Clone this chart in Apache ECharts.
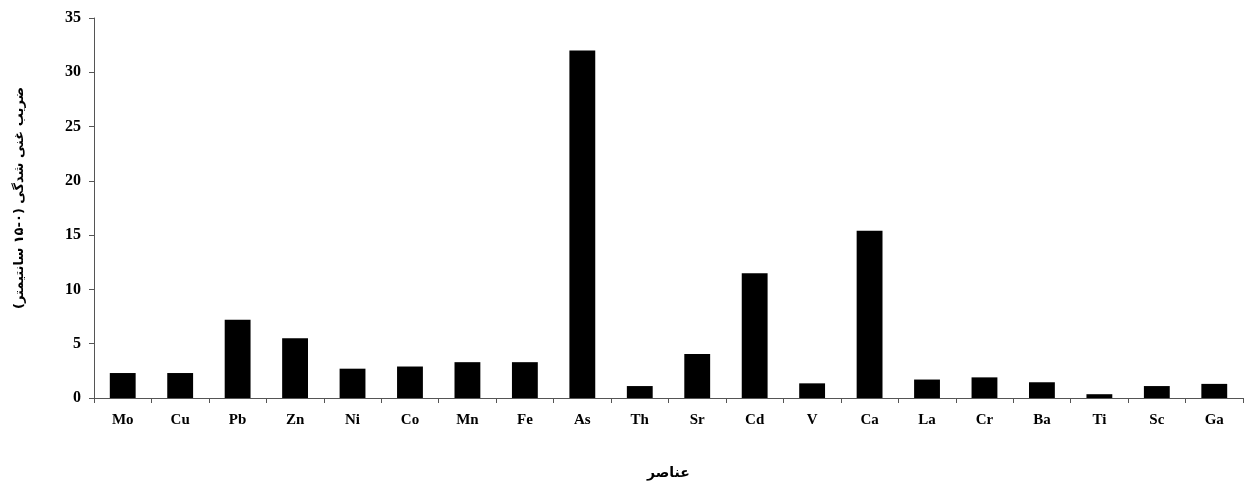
<!DOCTYPE html>
<html><head><meta charset="utf-8">
<script src="https://cdn.jsdelivr.net/npm/echarts@6/dist/echarts.min.js"></script>
<style>html,body{margin:0;padding:0;background:#fff}#c{width:1253px;height:484px}</style>
</head><body><div id="c"></div>
<script>
const categories = ['Mo','Cu','Pb','Zn','Ni','Co','Mn','Fe','As','Th','Sr','Cd','V','Ca','La','Cr','Ba','Ti','Sc','Ga'];
const values = [2.3, 2.3, 7.2, 5.5, 2.7, 2.9, 3.3, 3.3, 32.0, 1.1, 4.05, 11.5, 1.35, 15.4, 1.7, 1.9, 1.45, 0.35, 1.1, 1.3];
const yTicks = [0, 5, 10, 15, 20, 25, 30, 35];
const xTitle = 'عناصر';
const yTitle = 'ضریب غنی شدگی (۰-۱۵ سانتیمتر)';

const chart = echarts.init(document.getElementById('c'), null, {renderer: 'canvas'});
const axisColor = '#555';
chart.setOption({
  animation: false,
  grid: {left: 94, right: 10, top: 18, bottom: 86, containLabel: false, outerBoundsMode: 'none'},
  xAxis: {
    type: 'category', data: categories,
    axisLine: {lineStyle: {color: axisColor, width: 1}},
    axisTick: {show: true, alignWithLabel: false, length: 5, inside: false, lineStyle: {color: axisColor}},
    axisLabel: {color: '#000', fontFamily: 'Liberation Serif', fontWeight: 'bold', fontSize: 15, margin: 15},
    name: xTitle, nameLocation: 'middle', nameGap: 68,
    nameTextStyle: {color: '#000', fontFamily: 'DejaVu Sans', fontWeight: 'bold', fontSize: 14}
  },
  yAxis: {
    type: 'value', min: yTicks[0], max: yTicks[yTicks.length-1], interval: 5,
    splitLine: {show: false},
    axisLine: {show: true, lineStyle: {color: axisColor, width: 1}},
    axisTick: {show: true, length: 5, lineStyle: {color: axisColor}},
    axisLabel: {color: '#000', fontFamily: 'Liberation Serif', fontWeight: 'bold', fontSize: 16, margin: 13},
    name: yTitle, nameLocation: 'middle', nameGap: 68, nameRotate: 90,
    nameTextStyle: {color: '#000', fontFamily: 'DejaVu Sans', fontWeight: 'bold', fontSize: 13, padding: [0, 0, 0, 20]}
  },
  series: [{
    type: 'bar', data: values, barCategoryGap: '55%',
    itemStyle: {color: '#000'}
  }]
});
</script></body></html>
